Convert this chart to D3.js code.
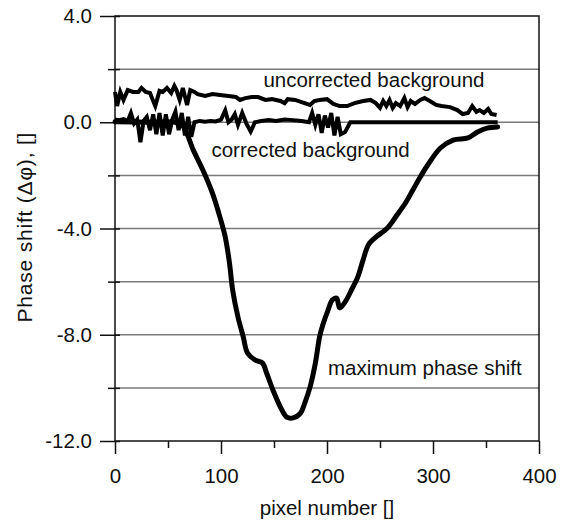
<!DOCTYPE html>
<html>
<head>
<meta charset="utf-8">
<script src="https://cdn.jsdelivr.net/npm/d3@7"></script>
<style>
  body { margin: 0; background: #fff; }
  text { font-family: "Liberation Sans", Arial, Helvetica, sans-serif; fill: #111; }
</style>
</head>
<body>
<div id="chart"></div>
<script>
const SVG_W = 564;
const SVG_H = 523;
const M = {left: 115, top: 16, right: 25, bottom: 82};
const FONT = 20.5;

// x ticks / y ticks
var xMajor = [0, 100, 200, 300, 400];
var xMinor = [50, 150, 250, 350];
var yMajor = [-12, -8, -4, 0, 4];
var yMinor = [-10, -6, -2, 2];
var yGrid = [-10, -8, -6, -4, -2, 0, 2];

// uncorrected background
var uncPixel = [0, 2, 5, 8, 12, 17, 22, 25, 29, 33, 38, 42, 45, 49, 53, 56, 58, 61, 64, 68, 71, 75, 78, 85, 92, 99, 107, 114, 118, 123, 129, 135, 142, 148, 156, 160, 163, 170, 176, 184, 188, 193, 200, 206, 212, 219, 226, 234, 241, 246, 250, 253, 256, 259, 262, 265, 269, 273, 276, 279, 283, 288, 292, 297, 303, 308, 316, 323, 328, 333, 337, 341, 344, 348, 352, 355, 360];
var uncValue = [1.14, 0.61, 1.14, 0.84, 1.21, 1.14, 1.14, 1.29, 1.14, 1.1, 0.61, 1.18, 1.14, 1.29, 1.1, 1.37, 1.21, 0.84, 1.29, 0.65, 1.21, 1.14, 1.06, 0.99, 1.06, 1.03, 0.99, 0.95, 0.84, 0.91, 0.95, 0.95, 0.84, 0.87, 0.8, 0.72, 0.87, 0.84, 0.76, 0.65, 0.8, 0.84, 0.87, 0.69, 0.61, 0.61, 0.72, 0.8, 0.84, 0.72, 0.54, 0.8, 0.61, 0.84, 0.54, 0.72, 0.61, 0.91, 0.57, 0.8, 0.69, 0.84, 0.91, 0.8, 0.65, 0.61, 0.57, 0.46, 0.31, 0.35, 0.61, 0.39, 0.46, 0.35, 0.5, 0.31, 0.27];

// corrected background
var corPixel = [0, 4, 8, 12, 15, 18, 21, 24, 27, 30, 33, 36, 39, 42, 45, 48, 51, 54, 57, 60, 63, 66, 69, 72, 75, 80, 85, 90, 95, 100, 104, 107, 110, 113, 116, 120, 124, 128, 132, 138, 145, 152, 160, 168, 176, 183, 186, 189, 192, 195, 198, 201, 204, 207, 210, 213, 217, 222, 240, 280, 320, 361];
var corValue = [0.1, 0.08, 0.12, 0.05, 0.35, -0.05, 0.1, -0.75, 0.05, 0.2, -0.3, 0.3, -0.45, 0.35, -0.5, 0.3, -0.45, 0.1, 0.4, -0.3, 0.35, -0.5, 0.2, -0.55, 0.0, 0.05, 0.02, 0.05, 0.03, 0.1, 0.45, 0.0, 0.1, 0.3, -0.1, 0.35, -0.05, -0.35, 0.0, 0.05, 0.08, 0.05, 0.1, 0.08, 0.05, 0.0, 0.35, -0.1, 0.3, -0.4, 0.25, -0.2, 0.35, -0.5, 0.2, -0.45, -0.37, 0.0, 0.0, 0.0, 0.0, 0.0];

// maximum phase shift
var maxPixel = [0, 30, 57, 64, 74, 83, 92, 99, 104, 108, 111, 116, 121, 125, 132, 139, 143, 149, 156, 162, 168, 175, 179, 184, 189, 193, 196, 201, 205, 209, 212, 217, 224, 229, 234, 239, 245, 257, 266, 274, 281, 288, 295, 307, 319, 333, 342, 351, 361];
var maxValue = [0.02, 0.0, 0.0, -0.14, -1.06, -1.81, -2.68, -3.57, -4.32, -5.3, -6.32, -7.33, -8.08, -8.69, -8.95, -9.06, -9.44, -10.08, -10.72, -11.1, -11.13, -10.95, -10.57, -9.97, -9.07, -8.08, -7.63, -7.07, -6.69, -6.62, -6.99, -6.77, -6.24, -5.83, -5.19, -4.62, -4.36, -3.98, -3.49, -3.04, -2.55, -2.06, -1.61, -0.97, -0.67, -0.59, -0.37, -0.22, -0.18];

var labels = [
  {text: "uncorrected background", px: 140, v: 1.32},
  {text: "corrected background", px: 91, v: -1.3},
  {text: "maximum phase shift", px: 201, v: -9.5}
];

var zip = (xs, ys) => xs.map((x, i) => [x, ys[i]]);
var fmtY = (d) => d3.format(".1f")(d).replace("\u2212", "-");

var svg = d3.select("#chart").append("svg")
  .attr("width", SVG_W)
  .attr("height", SVG_H);

var W = SVG_W - M.left - M.right;
var H = SVG_H - M.top - M.bottom;

var x = d3.scaleLinear().domain([0, 400]).range([M.left, M.left + W]);
var y = d3.scaleLinear().domain([-12, 4]).range([M.top + H, M.top]);

// gridlines
svg.selectAll("line.grid")
  .data(yGrid)
  .enter()
  .append("line")
  .attr("class", "grid")
  .attr("x1", x(0))
  .attr("x2", x(400))
  .attr("y1", d => y(d))
  .attr("y2", d => y(d))
  .attr("stroke", "#7a7a7a")
  .attr("stroke-width", 1.5);

// frame
svg.append("rect")
  .attr("x", x(0))
  .attr("y", y(4))
  .attr("width", W)
  .attr("height", H)
  .attr("fill", "none")
  .attr("stroke", "#111")
  .attr("stroke-width", 1.5);

// axes
var styleAxis = (g) => {
  g.select(".domain").remove();
  g.selectAll(".tick line").attr("stroke", "#111").attr("stroke-width", 1.5);
  g.selectAll(".tick text").attr("font-size", FONT).attr("fill", "#111");
}

svg.append("g")
  .attr("transform", `translate(0,${y(-12)})`)
  .call(d3.axisBottom(x).tickValues(xMajor).tickSize(13).tickPadding(14).tickFormat(d3.format("d")))
  .call(styleAxis);

svg.append("g")
  .attr("transform", `translate(0,${y(-12)})`)
  .call(d3.axisBottom(x).tickValues(xMinor).tickSize(7).tickFormat(""))
  .call(styleAxis);

svg.append("g")
  .attr("transform", `translate(${x(0) + 5},0)`)
  .call(d3.axisLeft(y).tickValues(yMajor).tickSize(20).tickPadding(8).tickFormat(fmtY))
  .call(styleAxis);

svg.append("g")
  .attr("transform", `translate(${x(0) + 5},0)`)
  .call(d3.axisLeft(y).tickValues(yMinor).tickSize(12).tickFormat(""))
  .call(styleAxis);

// series
var line = d3.line().x(d => x(d[0])).y(d => y(d[1]));
var smooth = d3.line().x(d => x(d[0])).y(d => y(d[1])).curve(d3.curveCatmullRom);

svg.append("path")
  .datum(zip(uncPixel, uncValue))
  .attr("d", line)
  .attr("fill", "none")
  .attr("stroke", "#000")
  .attr("stroke-width", 4)
  .attr("stroke-linejoin", "miter");

svg.append("path")
  .datum(zip(corPixel, corValue))
  .attr("d", line)
  .attr("fill", "none")
  .attr("stroke", "#000")
  .attr("stroke-width", 4)
  .attr("stroke-linejoin", "miter");

svg.append("path")
  .datum(zip(maxPixel, maxValue))
  .attr("d", smooth)
  .attr("fill", "none")
  .attr("stroke", "#000")
  .attr("stroke-width", 5)
  .attr("stroke-linecap", "round");

// annotations
svg.selectAll("text.note")
  .data(labels)
  .enter()
  .append("text")
  .attr("class", "note")
  .attr("x", d => x(d.px))
  .attr("y", d => y(d.v))
  .attr("font-size", FONT)
  .text(d => d.text);

// axis titles
svg.append("text")
  .attr("x", x(200))
  .attr("y", 515)
  .attr("text-anchor", "middle")
  .attr("font-size", FONT)
  .text("pixel number []");

svg.append("text")
  .attr("transform", `translate(32,${y(-3.95)}) rotate(-90)`)
  .attr("text-anchor", "middle")
  .attr("font-size", 21)
  .attr("letter-spacing", 0.8)
  .text("Phase shift (\u0394\u03c6), []");
</script>
</body>
</html>
